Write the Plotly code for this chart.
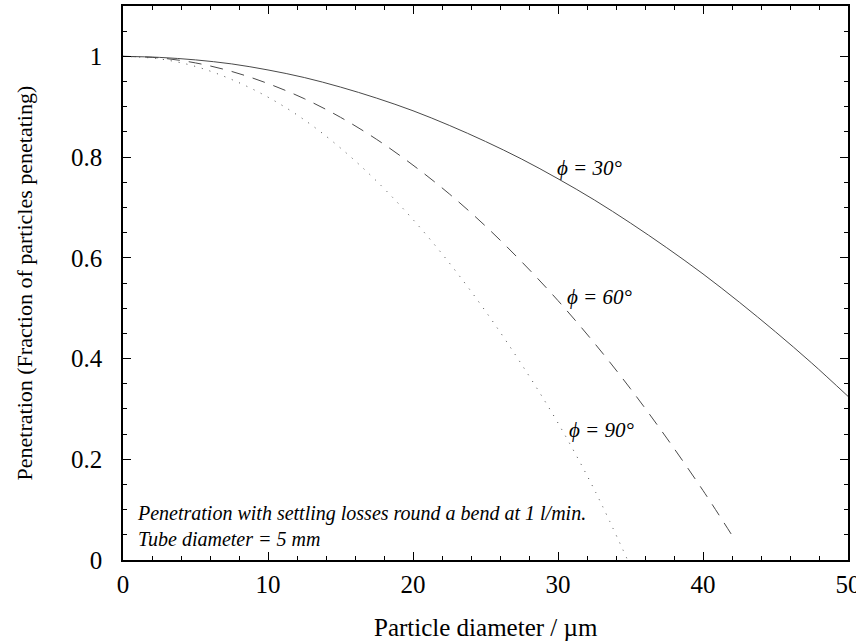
import plotly.graph_objects as go

# Particle diameter (µm) and penetration fraction for three bend angles
d_30 = [0, 2.5, 5, 7.5, 10, 12.5, 15, 17.5, 20, 22.5, 25, 27.5, 30, 32.5, 35,
        37.5, 40, 42.5, 45, 47.5, 50]
p_30 = [1.000, 0.998, 0.993, 0.985, 0.973, 0.958, 0.939, 0.917, 0.892, 0.863,
        0.831, 0.796, 0.757, 0.715, 0.669, 0.620, 0.568, 0.512, 0.453, 0.391,
        0.325]

d_60 = [0, 2.5, 5, 7.5, 10, 12.5, 15, 17.5, 20, 22.5, 25, 27.5, 30, 32.5, 35,
        37.5, 40, 42]
p_60 = [1.000, 0.997, 0.987, 0.970, 0.946, 0.916, 0.879, 0.835, 0.784, 0.727,
        0.663, 0.592, 0.515, 0.431, 0.340, 0.242, 0.138, 0.049]

d_90 = [0, 2.5, 5, 7.5, 10, 12.5, 15, 17.5, 20, 22.5, 25, 27.5, 30, 32.5, 34.8]
p_90 = [1.000, 0.995, 0.980, 0.954, 0.919, 0.874, 0.818, 0.752, 0.676, 0.590,
        0.494, 0.388, 0.272, 0.140, 0.0]

curve_labels = ["ϕ = 30°", "ϕ = 60°", "ϕ = 90°"]
label_x = [32.2, 32.9, 33.0]
label_y = [0.779, 0.523, 0.258]

note_lines = ["Penetration with settling losses round a bend at 1 l/min.",
              "Tube diameter = 5 mm"]

SERIF = "Liberation Serif"
LINE_COLOR = "#4a4a4a"

fig = go.Figure()
fig.add_trace(go.Scatter(x=d_30, y=p_30, mode="lines", line_shape="spline",
                         line=dict(color=LINE_COLOR, width=1)))
fig.add_trace(go.Scatter(x=d_60, y=p_60, mode="lines", line_shape="spline",
                         line=dict(color=LINE_COLOR, width=1, dash="13px,9px")))
fig.add_trace(go.Scatter(x=d_90, y=p_90, mode="lines", line_shape="spline",
                         line=dict(color=LINE_COLOR, width=1, dash="1px,7px")))

for text, x, y in zip(curve_labels, label_x, label_y):
    fig.add_annotation(x=x, y=y, text=f"<i>{text}</i>", showarrow=False,
                       xanchor="center", yanchor="middle",
                       font=dict(family=SERIF, size=21, color="black"))

fig.add_annotation(x=0.016, y=0.015, xref="paper", yref="paper",
                   text="<i>" + "<br>".join(note_lines) + "</i>",
                   showarrow=False, xanchor="left", yanchor="bottom",
                   align="left",
                   font=dict(family=SERIF, size=20, color="black"))

# Axis titles placed as paper-anchored annotations
fig.add_annotation(x=0.5, y=-0.121, xref="paper", yref="paper",
                   text="Particle diameter / µm", showarrow=False,
                   xanchor="center", yanchor="middle",
                   font=dict(family=SERIF, size=25, color="black"))
fig.add_annotation(x=-0.136, y=0.5, xref="paper", yref="paper",
                   text="Penetration (Fraction of particles penetating)",
                   showarrow=False, textangle=-90,
                   xanchor="center", yanchor="middle",
                   font=dict(family=SERIF, size=22, color="black"))

axis_common = dict(
    showline=True, linecolor="black", linewidth=1.5, mirror="ticks",
    ticks="inside", ticklen=8, tickwidth=1.2, tickcolor="black",
    showgrid=False, zeroline=False, ticklabeloverflow="allow",
    automargin=False,
    tickfont=dict(family=SERIF, size=25, color="black"),
)

fig.update_xaxes(range=[0, 50], dtick=10, tick0=0,
                 minor=dict(dtick=2, ticks="inside", ticklen=4,
                            tickcolor="black", tickwidth=1),
                 ticklabelstandoff=1,
                 **axis_common)
fig.update_yaxes(range=[0, 1.1], dtick=0.2, tick0=0,
                 minor=dict(dtick=0.05, ticks="inside", ticklen=4,
                            tickcolor="black", tickwidth=1),
                 ticklabelstandoff=14,
                 **axis_common)

fig.update_layout(
    width=856, height=642,
    margin=dict(l=123, r=8, t=6, b=82),
    paper_bgcolor="white", plot_bgcolor="white",
    showlegend=False,
)

fig.write_html("out.html")
